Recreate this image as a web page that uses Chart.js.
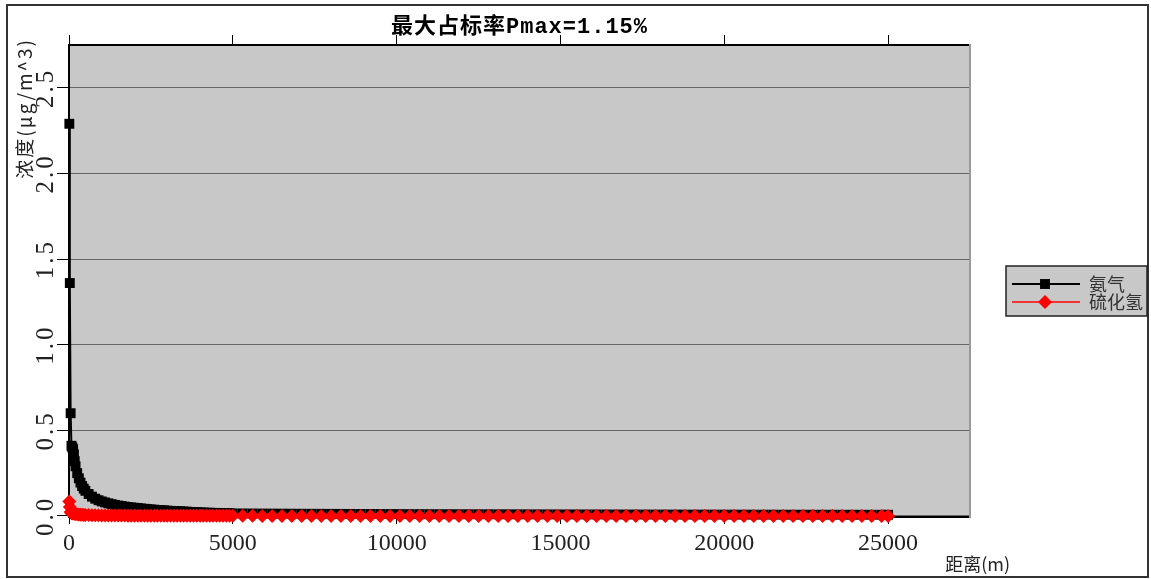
<!DOCTYPE html>
<html>
<head>
<meta charset="utf-8">
<script src="https://cdn.jsdelivr.net/npm/chart.js@4/dist/chart.umd.min.js"></script>
<style>
  html, body { margin: 0; padding: 0; background: #fff; }
  canvas { display: block; }
</style>
</head>
<body>
<canvas id="chart" width="1151" height="579"></canvas>
<script>
// Receptor distances downwind (m)
const distances = [
  10, 25, 50, 75, 100, 125, 150, 175, 200, 250, 300, 350, 400, 450, 500,
  600, 700, 800, 900, 1000, 1100, 1200, 1300, 1400, 1500, 1600, 1700, 1800, 1900, 2000,
  2100, 2200, 2300, 2400, 2500, 2600, 2700, 2800, 2900, 3000, 3100, 3200, 3300, 3400, 3500,
  3600, 3700, 3800, 3900, 4000, 4100, 4200, 4300, 4400, 4500, 4600, 4700, 4800, 4900, 5000,
  5300, 5600, 5900, 6200, 6500, 6800, 7100, 7400, 7700, 8000, 8300, 8600, 8900, 9200, 9500, 9800,
  10100, 10400, 10700, 11000, 11300, 11600, 11900, 12200, 12500, 12800, 13100, 13400, 13700, 14000, 14300, 14600, 14900,
  15200, 15500, 15800, 16100, 16400, 16700, 17000, 17300, 17600, 17900, 18200, 18500, 18800, 19100, 19400, 19700, 20000,
  20300, 20600, 20900, 21200, 21500, 21800, 22100, 22400, 22700, 23000, 23300, 23600, 23900, 24200, 24500, 24800, 25000
];

// 氨气 concentration (μg/m^3)
const ammonia = [
  2.29, 1.36, 0.60, 0.41, 0.40, 0.39, 0.36, 0.32, 0.29, 0.25, 0.22, 0.195, 0.175, 0.16, 0.147,
  0.128, 0.113, 0.101, 0.092, 0.085, 0.079, 0.074, 0.069, 0.065, 0.061, 0.058, 0.055, 0.052, 0.050, 0.048,
  0.046, 0.044, 0.042, 0.040, 0.038, 0.037, 0.035, 0.034, 0.033, 0.031, 0.030, 0.029, 0.028, 0.027, 0.026,
  0.025, 0.024, 0.023, 0.022, 0.021, 0.020, 0.019, 0.019, 0.018, 0.018, 0.017, 0.017, 0.016, 0.016, 0.015,
  0.0148, 0.0145, 0.0142, 0.0139, 0.0136, 0.0133, 0.0130, 0.0128, 0.0126, 0.0124, 0.0122, 0.0120, 0.0118, 0.0116, 0.0114, 0.0112,
  0.0111, 0.0109, 0.0108, 0.0106, 0.0105, 0.0104, 0.0102, 0.0101, 0.0100, 0.0099, 0.0098, 0.0097, 0.0096, 0.0095, 0.0094, 0.0093, 0.0092,
  0.0091, 0.0090, 0.0089, 0.0089, 0.0088, 0.0087, 0.0086, 0.0086, 0.0085, 0.0084, 0.0083, 0.0083, 0.0082, 0.0081, 0.0081, 0.0080, 0.0079,
  0.0079, 0.0078, 0.0077, 0.0077, 0.0076, 0.0076, 0.0075, 0.0074, 0.0074, 0.0073, 0.0073, 0.0072, 0.0072, 0.0071, 0.0071, 0.0070, 0.0070
];

// 硫化氢 concentration (μg/m^3)
const hydrogenSulfide = [
  0.085, 0.053, 0.023, 0.016, 0.0155, 0.015, 0.014, 0.0125, 0.0113, 0.0098, 0.0086, 0.0076, 0.0068, 0.0062, 0.0057,
  0.0050, 0.0044, 0.0039, 0.0036, 0.0033, 0.0031, 0.0029, 0.0027, 0.0025, 0.0024, 0.0023, 0.0021, 0.0020, 0.0020, 0.0019,
  0.0018, 0.0017, 0.0016, 0.0016, 0.0015, 0.0014, 0.0014, 0.0013, 0.0013, 0.0012, 0.0012, 0.0011, 0.0011, 0.0011, 0.0010,
  0.0010, 0.0009, 0.0009, 0.0009, 0.0008, 0.0008, 0.0007, 0.0007, 0.0007, 0.0007, 0.0007, 0.0007, 0.0006, 0.0006, 0.0006,
  0.00058, 0.00057, 0.00055, 0.00054, 0.00053, 0.00052, 0.00051, 0.00050, 0.00049, 0.00048, 0.00048, 0.00047, 0.00046, 0.00045, 0.00044, 0.00044,
  0.00043, 0.00043, 0.00042, 0.00041, 0.00041, 0.00040, 0.00040, 0.00039, 0.00039, 0.00039, 0.00038, 0.00038, 0.00037, 0.00037, 0.00037, 0.00036, 0.00036,
  0.00035, 0.00035, 0.00035, 0.00035, 0.00034, 0.00034, 0.00034, 0.00033, 0.00033, 0.00033, 0.00032, 0.00032, 0.00032, 0.00032, 0.00031, 0.00031, 0.00031,
  0.00031, 0.00030, 0.00030, 0.00030, 0.00030, 0.00030, 0.00029, 0.00029, 0.00029, 0.00028, 0.00028, 0.00028, 0.00028, 0.00028, 0.00027, 0.00027, 0.00027
];

const seriesNames = ['氨气', '硫化氢'];
const xTickValues = [0, 5000, 10000, 15000, 20000, 25000];
const yTickValues = [0, 0.5, 1.0, 1.5, 2.0, 2.5];
const xRange = [0, 27500];
const yRange = [-0.006, 2.75];

const chartTitle = '最大占标率Pmax=1.15%';
const xAxisTitle = '距离(m)';
const yAxisTitle = '浓度(μg/m^3)';

// Per-axis text tweaks: letter spacing and small title offsets
const TEXT_TWEAKS = {
  x: { titleShift: [40, 0] },
  y: { labelSpacing: '3px', titleSpacing: '2px', titleShift: [0, -7] }
};

class TunedLinearScale extends Chart.LinearScale {
  drawTitle() {
    const t = TEXT_TWEAKS[this.id] || {};
    const ctx = this.ctx;
    ctx.save();
    if (t.titleShift) ctx.translate(t.titleShift[0], t.titleShift[1]);
    if (t.titleSpacing) ctx.letterSpacing = t.titleSpacing;
    super.drawTitle();
    ctx.restore();
  }
  drawLabels(area) {
    const t = TEXT_TWEAKS[this.id] || {};
    const ctx = this.ctx;
    ctx.save();
    if (t.labelSpacing) ctx.letterSpacing = t.labelSpacing;
    super.drawLabels(area);
    ctx.restore();
  }
}
TunedLinearScale.id = 'tunedLinear';
TunedLinearScale.defaults = Chart.LinearScale.defaults;
Chart.register(TunedLinearScale);

const seriesStyles = [
  { color: '#000000', lineWidth: 2, pointStyle: 'rect', radius: 7 },
  { color: '#ff0000', lineWidth: 1.5, pointStyle: 'rectRot', radius: 7 }
];

// Legend swatch: short line with the series marker in the middle
function makeSwatch(style) {
  const c = document.createElement('canvas');
  c.width = 70; c.height = 16;
  const g = c.getContext('2d');
  g.strokeStyle = style.color;
  g.lineWidth = style.lineWidth;
  g.beginPath();
  g.moveTo(2, 8);
  g.lineTo(70, 8);
  g.stroke();
  g.fillStyle = style.color;
  Chart.helpers.drawPoint(g, { pointStyle: style.pointStyle, radius: style.radius, borderWidth: 0, rotation: 0 }, 35, 8);
  return c;
}
const swatches = seriesStyles.map(makeSwatch);

const toPoints = (vals) => distances.map((d, i) => ({ x: d, y: vals[i] }));

const panelPlugin = {
  id: 'panelPlugin',
  beforeDraw(chart) {
    const { ctx, chartArea: a } = chart;
    // chart title drawn with a little letter spacing
    const tb = chart.titleBlock;
    if (tb && !tb._spaced) {
      const orig = tb.draw;
      tb.draw = function (...args) {
        const c = this.ctx;
        c.save();
        c.letterSpacing = '1px';
        orig.apply(this, args);
        c.restore();
      };
      tb._spaced = true;
    }
    ctx.save();
    ctx.fillStyle = '#c8c8c8';
    ctx.fillRect(a.left, a.top, a.right - a.left, a.bottom - a.top);
    ctx.strokeStyle = '#333';
    ctx.lineWidth = 2;
    ctx.strokeRect(7, 5, 1141, 572);
    const lg = chart.legend;
    if (lg && lg.legendHitBoxes && lg.legendHitBoxes.length) {
      const hb = lg.legendHitBoxes;
      const first = hb[0], last = hb[hb.length - 1];
      const x0 = lg.left - 4, y0 = first.top - 9;
      const x1 = x0 + 141, y1 = last.top + last.height + 5;
      ctx.fillStyle = '#c8c8c8';
      ctx.fillRect(x0, y0, x1 - x0, y1 - y0);
      ctx.strokeStyle = '#222';
      ctx.lineWidth = 1.5;
      ctx.strokeRect(x0, y0, x1 - x0, y1 - y0);
    }
    ctx.restore();
  }
};

const setTicks = (values) => (scale) => { scale.ticks = values.map(v => ({ value: v })); };

const PAD_RIGHT = -2;

new Chart(document.getElementById('chart'), {
  type: 'line',
  data: {
    datasets: [
      {
        label: seriesNames[0],
        data: toPoints(ammonia),
        borderColor: seriesStyles[0].color,
        borderWidth: seriesStyles[0].lineWidth,
        pointStyle: seriesStyles[0].pointStyle,
        pointRadius: seriesStyles[0].radius,
        pointBackgroundColor: seriesStyles[0].color,
        pointBorderWidth: 0,
        tension: 0,
        clip: false,
        order: 1
      },
      {
        label: seriesNames[1],
        data: toPoints(hydrogenSulfide),
        borderColor: seriesStyles[1].color,
        borderWidth: seriesStyles[1].lineWidth,
        pointStyle: seriesStyles[1].pointStyle,
        pointRadius: seriesStyles[1].radius,
        pointBackgroundColor: seriesStyles[1].color,
        pointBorderWidth: 0,
        tension: 0,
        clip: false,
        order: 0
      }
    ]
  },
  options: {
    responsive: false,
    animation: false,
    devicePixelRatio: 1,
    events: [],
    layout: { padding: { left: 0, top: 7, right: PAD_RIGHT, bottom: 0 } },
    scales: {
      x: {
        type: 'tunedLinear',
        position: 'bottom',
        min: xRange[0],
        max: xRange[1],
        afterBuildTicks: setTicks(xTickValues),
        afterFit: (s) => { s.height = 62; },
        ticks: {
          maxRotation: 0, minRotation: 0, autoSkip: false, padding: 5,
          color: '#222',
          font: { family: 'Liberation Serif', size: 24 },
          callback: (v) => String(v)
        },
        grid: { drawOnChartArea: false, tickLength: 7, tickColor: '#000', tickWidth: 1 },
        border: { color: '#000', width: 2 },
        title: {
          display: true, text: xAxisTitle, align: 'end', color: '#222',
          font: { family: 'Noto Sans CJK SC', size: 18 },
          padding: { top: 0, bottom: 4.2 }
        }
      },
      xTop: {
        type: 'linear',
        position: 'top',
        min: xRange[0],
        max: xRange[1],
        afterBuildTicks: setTicks(xTickValues),
        afterFit: (s) => { s.height = 4.6; },
        ticks: { display: false },
        grid: { drawOnChartArea: false, tickLength: 10, tickColor: '#000', tickWidth: 1 },
        border: { color: '#000', width: 2 }
      },
      y: {
        type: 'tunedLinear',
        position: 'left',
        min: yRange[0],
        max: yRange[1],
        afterBuildTicks: setTicks(yTickValues),
        afterFit: (s) => { s.width = 69; },
        ticks: {
          minRotation: 90, maxRotation: 90, crossAlign: 'center', padding: -5,
          color: '#222',
          font: { family: 'Liberation Serif', size: 25 },
          callback: (v) => Number(v).toFixed(1)
        },
        grid: { color: '#666', lineWidth: 1, tickLength: 12, tickColor: '#000', tickWidth: 1 },
        border: { color: '#000', width: 2 },
        title: {
          display: true, text: yAxisTitle, align: 'end', color: '#222',
          font: { family: 'Noto Sans CJK SC', size: 19 },
          padding: { top: 13.6, bottom: 0 }
        }
      },
      yRight: {
        type: 'linear',
        position: 'right',
        min: 0, max: 1,
        afterFit: (s) => { s.width = 1151 - 970 - PAD_RIGHT - s.chart.legend.width; },
        ticks: { display: false },
        grid: { drawOnChartArea: false, drawTicks: false },
        border: { color: '#999', width: 2 }
      }
    },
    plugins: {
      tooltip: { enabled: false },
      title: {
        display: true,
        text: chartTitle,
        position: 'top',
        fullSize: false,
        color: '#000',
        font: { family: "'Liberation Mono', 'Noto Sans CJK SC'", size: 22, weight: 'bold' },
        padding: { top: 7, bottom: 0 }
      },
      legend: {
        display: true,
        position: 'right',
        align: 'center',
        labels: {
          usePointStyle: true,
          pointStyleWidth: 70,
          boxHeight: 16,
          padding: 0,
          color: '#333',
          font: { family: 'Noto Sans CJK SC', size: 18 },
          generateLabels: (chart) => chart.data.datasets.map((ds, i) => ({
            text: ds.label,
            pointStyle: swatches[i],
            fontColor: '#333',
            fillStyle: 'transparent',
            strokeStyle: 'transparent',
            lineWidth: 0,
            hidden: false,
            datasetIndex: i
          }))
        }
      }
    }
  },
  plugins: [panelPlugin]
});
</script>
</body>
</html>
